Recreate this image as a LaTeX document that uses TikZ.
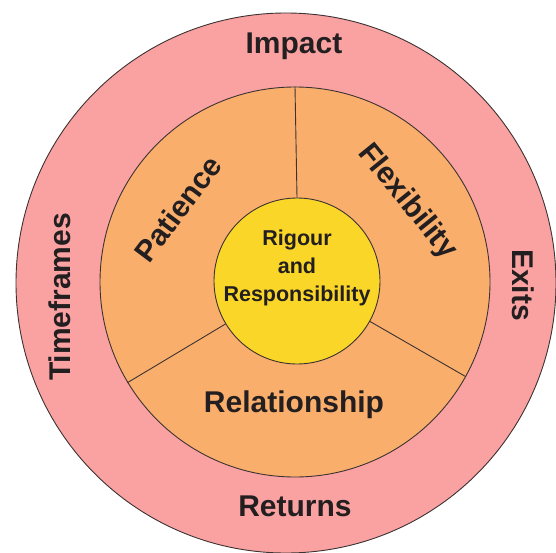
\documentclass[tikz,border=0pt]{standalone}
\usepackage{fontspec}
\setmainfont{Liberation Sans}
\definecolor{ringpink}{RGB}{250,162,162}
\definecolor{ringorange}{RGB}{250,174,108}
\definecolor{coreyellow}{RGB}{250,214,40}
\definecolor{inkdark}{RGB}{35,31,32}
\definecolor{edgedark}{RGB}{60,50,50}
\begin{document}
\begin{tikzpicture}[x=1pt,y=-1pt,
  ring/.style={circle, draw=edgedark, line width=0.9pt, inner sep=0pt},
  lbl/.style={text=inkdark, font=\fontsize{30}{32}\selectfont\bfseries, inner sep=0pt},
  corelbl/.style={text=inkdark, font=\fontsize{21.5}{28}\selectfont\bfseries, align=center, inner sep=0pt},
  divider/.style={draw=edgedark, line width=0.9pt}]
\useasboundingbox (0,0) rectangle (556,553);
\clip (0,0) rectangle (556,553);
\node[ring, fill=ringpink, minimum size=540pt] (outer) at (286,283) {};
\node[ring, fill=ringorange, minimum size=390pt] (mid) at (295,282) {};
\node[ring, fill=coreyellow, minimum size=166pt] (core) at (297,281) {};
\draw[divider] (mid.90) -- (core.90);
\draw[divider] (mid.211) -- (core.211);
\draw[divider] (mid.331) -- (core.331);
\node[corelbl] (rigour) at (297,268) {Rigour\\and\\Responsibility};
\node[lbl] (impact) at (294,46) {Impact};
\node[lbl] (returns) at (295,506) {Returns};
\node[lbl] (relationship) at (294,405) {Relationship};
\node[lbl, rotate=90] (timeframes) at (60,297) {Timeframes};
\node[lbl, rotate=-90] (exits) at (523,285) {Exits};
\node[lbl, rotate=53] (patience) at (178,209) {Patience};
\node[lbl, rotate=-51] (flexibility) at (407,202) {Flexibility};
\end{tikzpicture}
\end{document}
